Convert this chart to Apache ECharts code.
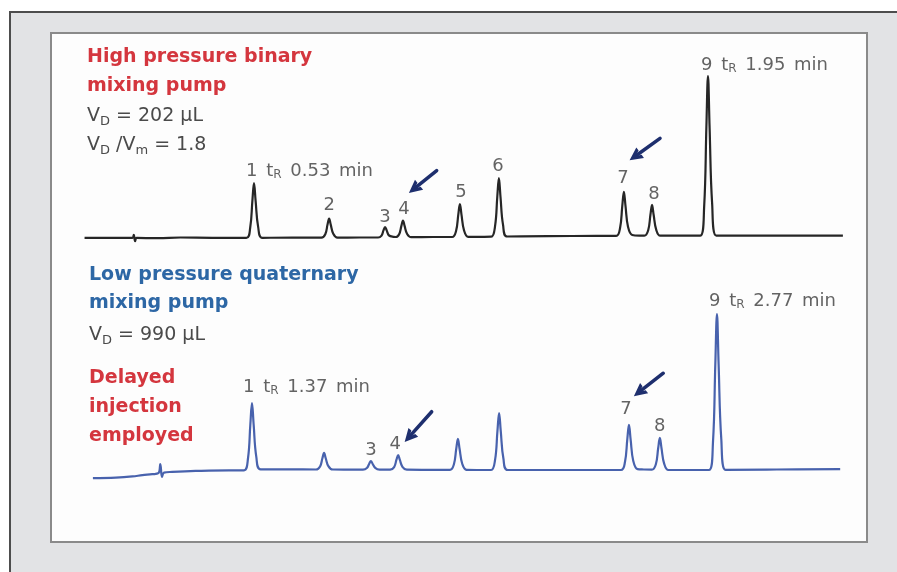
<!DOCTYPE html>
<html>
<head>
<meta charset="utf-8">
<script src="https://cdn.jsdelivr.net/npm/echarts@6/dist/echarts.min.js"></script>
<style>
html,body{margin:0;padding:0;background:#ffffff;}
#chart{width:897px;height:572px;}
</style>
</head>
<body>
<div id="chart"></div>
<script>
// ---------------- DATA (time in min, detector signal in arbitrary units) ----------------
// High pressure binary mixing pump chromatogram
const binaryTrace = [
  [0.000,-0.5],[0.080,-0.6],[0.150,-0.5],[0.154,1.3],[0.158,-2.6],[0.163,-0.6],[0.230,-0.7],[0.300,-0.3],[0.400,-0.5],
  [0.506,-0.5],[0.518,5.6],[0.525,22.6],[0.530,33.5],[0.535,22.6],[0.543,6.3],[0.556,-0.5],
  [0.650,-0.4],
  [0.741,-0.4],[0.753,1.7],[0.760,7.7],[0.765,11.5],[0.770,7.7],[0.778,2.0],[0.791,-0.4],
  [0.860,-0.3],
  [0.918,-0.3],[0.929,0.9],[0.935,4.1],[0.940,6.2],[0.945,4.1],[0.952,1.0],[0.966,0.1],
  [0.974,0.0],[0.984,1.7],[0.991,6.9],[0.996,10.2],[1.001,6.9],[1.009,1.9],[1.022,-0.1],
  [1.090,0.0],
  [1.150,0.0],[1.162,3.7],[1.169,13.9],[1.174,20.5],[1.179,13.9],[1.187,4.1],[1.200,0.1],
  [1.240,0.1],
  [1.272,0.2],[1.284,6.8],[1.291,25.0],[1.296,36.6],[1.301,25.0],[1.309,7.5],[1.322,0.3],
  [1.450,0.5],[1.600,0.7],
  [1.663,0.7],[1.675,5.6],[1.682,19.3],[1.687,28.0],[1.692,19.3],[1.700,6.2],[1.713,1.2],
  [1.735,0.8],
  [1.751,0.8],[1.763,4.2],[1.770,13.8],[1.775,19.9],[1.780,13.8],[1.788,4.6],[1.801,0.8],
  [1.880,0.8],
  [1.926,0.9],[1.938,18.7],[1.945,68.3],[1.950,100.0],[1.955,68.3],[1.963,20.7],[1.976,0.9],
  [2.100,0.9],[2.372,0.9]
];
const binaryPeakTimes   = [0.530,0.765,0.940,0.996,1.174,1.296,1.687,1.775,1.950];
const binaryPeakHeights = [33.5,11.5,6.2,10.2,20.5,36.6,28.0,19.9,100.0];
const binaryPeakLabels  = ['1 tR 0.53 min','2','3','4','5','6','7','8','9 tR 1.95 min'];

// Low pressure quaternary mixing pump chromatogram (delayed injection)
const quaternaryTrace = [
  [0.891,-5.0],[0.960,-4.7],[1.010,-4.0],[1.040,-3.2],[1.070,-2.6],[1.088,-2.0],[1.094,3.7],[1.099,-4.3],[1.105,-1.6],[1.130,-1.2],[1.200,-0.6],[1.300,-0.2],
  [1.346,-0.2],[1.358,7.3],[1.365,28.2],[1.370,41.6],[1.375,28.2],[1.383,8.2],[1.396,0.4],
  [1.480,0.4],
  [1.563,0.3],[1.575,2.2],[1.582,7.3],[1.587,10.6],[1.592,7.3],[1.600,2.4],[1.613,0.3],
  [1.660,0.2],
  [1.704,0.2],[1.716,1.2],[1.723,3.9],[1.728,5.6],[1.733,3.9],[1.741,1.3],[1.754,0.2],
  [1.786,0.2],[1.798,1.8],[1.805,6.4],[1.810,9.3],[1.815,6.4],[1.823,2.0],[1.836,0.2],
  [1.900,0.1],
  [1.966,0.1],[1.978,3.6],[1.985,13.2],[1.990,19.3],[1.995,13.2],[2.003,3.9],[2.016,0.1],
  [2.060,0.0],
  [2.090,0.0],[2.102,6.4],[2.109,24.1],[2.114,35.4],[2.119,24.1],[2.127,7.1],[2.140,0.0],
  [2.300,0.0],
  [2.481,0.0],[2.493,5.0],[2.500,19.0],[2.505,28.0],[2.510,19.0],[2.518,5.6],[2.531,0.5],
  [2.550,0.3],
  [2.574,0.2],[2.586,3.6],[2.593,13.5],[2.598,19.9],[2.603,13.5],[2.611,4.0],[2.624,0.0],
  [2.700,0.0],
  [2.746,0.0],[2.758,17.3],[2.765,65.5],[2.770,96.8],[2.775,65.5],[2.783,19.3],[2.796,0.1],
  [2.950,0.3],[3.141,0.6]
];
const quaternaryPeakTimes   = [1.370,1.587,1.728,1.810,1.990,2.114,2.505,2.598,2.770];
const quaternaryPeakHeights = [41.6,10.6,5.6,9.3,19.3,35.4,28.0,19.9,96.8];
const quaternaryPeakLabels  = ['1 tR 1.37 min','','3','4','','','7','8','9 tR 2.77 min'];

// Arrow annotations [tail, head] in (min, signal)
const binaryArrows     = [[[1.1014,41.2],[1.0304,29.9]], [[1.8000,61.3],[1.7213,50.0]]];
const quaternaryArrows = [[[1.9110,36.2],[1.8427,20.4]], [[2.6083,60.1],[2.5352,48.3]]];

// ---------------- STYLE ----------------
const FONT = '"DejaVu Sans", "Noto Sans", sans-serif';
const RED = '#d4363e', BLUE_T = '#2d67a5', GRAY = '#4a4a4a', LABEL_C = '#3c3c3c';
const TRACE_TOP = '#262626', TRACE_BOT = '#4862ad', ARROW_C = '#1e2f6e';
// per-label [dx, dy, align]
const binaryLabelAdjust = [[-8,0,'left'],[0,-1],[0,2],[1,1],[1,0],[-1,0],[-1,-2],[2,1],[-7,1,'left']];
const quaternaryLabelAdjust = [[-9,-4,'left'],[0,0],[0,1],[-3,1],[0,0],[0,0],[-3,-4],[0,0],[-8,-1,'left']];
const chevron = 'path://M5,0 L10,9 L7,9 L5,5 L3,9 L0,9 Z';

function richLabel(text) {
  if (text.indexOf('tR') < 0) return text;
  return text.replace('tR', 't{s|R}').split(' ').join('{g| }');
}
function labelItems(times, heights, texts, adjust) {
  return times.map((t, i) => {
    const a = adjust[i] || [0,0];
    return {
      value: [t, heights[i]],
      label: {
        show: texts[i] !== '',
        formatter: richLabel(texts[i]),
        offset: [a[0], a[1]],
        align: a[2] || 'center'
      }
    };
  });
}
const labelRich = {
  s: { fontSize: 12, lineHeight: 10, padding: [8,0,0,0], fontFamily: FONT, color: LABEL_C },
  g: { fontSize: 18, lineHeight: 18, padding: [0,1.5,0,1.5], fontFamily: FONT, color: LABEL_C }
};
function labelSeries(xi, times, heights, texts, adjust, arrows) {
  return {
    type: 'scatter', xAxisIndex: xi, yAxisIndex: xi, symbolSize: 0, silent: true, animation: false, z: 5,
    data: labelItems(times, heights, texts, adjust),
    label: { show: true, position: 'top', distance: 3, fontFamily: FONT, fontSize: 18, lineHeight: 18, color: LABEL_C, rich: labelRich },
    markLine: {
      silent: true, animation: false, symbol: ['none', chevron], symbolSize: 13,
      label: { show: false },
      lineStyle: { color: ARROW_C, width: 3.5, type: 'solid', cap: 'round' },
      data: arrows.map(a => [{ coord: a[0] }, { coord: a[1] }])
    }
  };
}

function titleText(x, y, text, color, bold) {
  return {
    type: 'text', x: x, y: y, z: 10, silent: true,
    style: {
      text: text, fill: color, fontFamily: FONT, fontSize: 19, fontWeight: bold ? 'bold' : 'normal',
      lineHeight: 20, verticalAlign: 'middle', align: 'left',
      rich: { s: { fontSize: 13, lineHeight: 10, padding: [10,0,0,0], fontFamily: FONT, fontWeight: 'normal', fill: color } }
    }
  };
}

const chart = echarts.init(document.getElementById('chart'), null, { renderer: 'canvas' });
chart.setOption({
  backgroundColor: '#ffffff',
  animation: false,
  grid: [
    { left: 84.55, top: 59.9, width: 767.3, height: 193.2 },
    { left: 62.68, top: 292.9, width: 797.1, height: 193.2 }
  ],
  xAxis: [
    { gridIndex: 0, type: 'value', min: 0, max: 2.4, show: false },
    { gridIndex: 1, type: 'value', min: 0.8, max: 3.2, show: false }
  ],
  yAxis: [
    { gridIndex: 0, type: 'value', min: -10, max: 110, show: false },
    { gridIndex: 1, type: 'value', min: -10, max: 110, show: false }
  ],
  graphic: [
    { type: 'rect', z: 0, silent: true, shape: { x: 10, y: 12, width: 900, height: 600 }, style: { fill: '#e2e3e5', stroke: '#4d4d4d', lineWidth: 2 } },
    { type: 'rect', z: 1, silent: true, shape: { x: 51, y: 33, width: 816, height: 509 }, style: { fill: '#fdfdfd', stroke: '#8a8a8a', lineWidth: 2 } },
    titleText(87, 57.5, 'High pressure binary', RED, true),
    titleText(87, 86.5, 'mixing pump', RED, true),
    titleText(87, 116.5, 'V{s|D} = 202 µL', GRAY, false),
    titleText(87, 145.5, 'V{s|D} /V{s|m} = 1.8', GRAY, false),
    titleText(89, 275.5, 'Low pressure quaternary', BLUE_T, true),
    titleText(89, 303.5, 'mixing pump', BLUE_T, true),
    titleText(89, 335.5, 'V{s|D} = 990 µL', GRAY, false),
    titleText(89, 378.5, 'Delayed', RED, true),
    titleText(89, 407.5, 'injection', RED, true),
    titleText(89, 436.5, 'employed', RED, true)
  ],
  series: [
    { type: 'line', xAxisIndex: 0, yAxisIndex: 0, data: binaryTrace, showSymbol: false, symbol: 'none', silent: true, z: 3,
      smooth: 0.4,
      lineStyle: { color: TRACE_TOP, width: 2.2, join: 'round' } },
    labelSeries(0, binaryPeakTimes, binaryPeakHeights, binaryPeakLabels, binaryLabelAdjust, binaryArrows),
    { type: 'line', xAxisIndex: 1, yAxisIndex: 1, data: quaternaryTrace, showSymbol: false, symbol: 'none', silent: true, z: 3,
      smooth: 0.4,
      lineStyle: { color: TRACE_BOT, width: 2.2, join: 'round' } },
    labelSeries(1, quaternaryPeakTimes, quaternaryPeakHeights, quaternaryPeakLabels, quaternaryLabelAdjust, quaternaryArrows)
  ]
});
</script>
</body>
</html>
